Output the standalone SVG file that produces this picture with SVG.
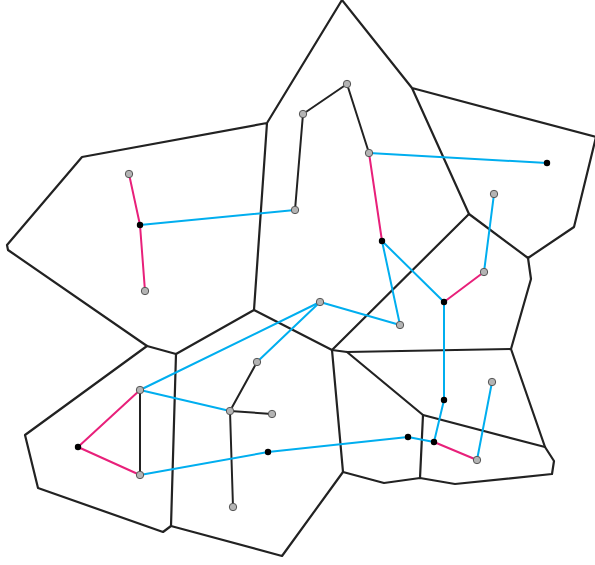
<svg xmlns="http://www.w3.org/2000/svg" width="595" height="565" viewBox="0 0 595 565">
<style>
.cell{fill:none;stroke:#222;stroke-width:2.2;stroke-linejoin:round;stroke-linecap:round}
.e{fill:none;stroke-width:2;stroke-linecap:round}
.k{stroke:#222}
.p{stroke:#e8207a}
.b{stroke:#00aeef}
.g{fill:#b4b4b4;stroke:#555;stroke-width:1}
.d{fill:#000}
</style>
<rect width="595" height="565" fill="#fff"/>
<g id="cells">
<path class="cell" d="M342,0 L267,123 L82,157 L7,245 L8,250 L147,346 L176,354 L254,310 L267,123"/>
<path class="cell" d="M342,0 L412,88 L596,137 L574,227 L528,258 L469,214 L412,88"/>
<path class="cell" d="M469,214 L332,350 L254,310"/>
<path class="cell" d="M528,258 L531,279 L511,349 L545,447 L554,461 L552,474 L455,484 L420,478 L384,483 L343,472 L282,556 L171,526 L163,532 L38,488 L25,435 L147,346"/>
<path class="cell" d="M176,354 L171,526"/>
<path class="cell" d="M332,350 L347,352 L511,349"/>
<path class="cell" d="M332,350 L343,472"/>
<path class="cell" d="M347,352 L423,415 L545,447"/>
<path class="cell" d="M423,415 L420,478"/>
</g>
<g id="connectors">
<line class="e k" x1="303" y1="114" x2="347" y2="84"/>
<line class="e k" x1="347" y1="84" x2="369" y2="153"/>
<line class="e k" x1="303" y1="114" x2="295" y2="210"/>
<line class="e k" x1="140" y1="390" x2="140" y2="475"/>
<line class="e k" x1="257" y1="362" x2="230" y2="411"/>
<line class="e k" x1="230" y1="411" x2="272" y2="414"/>
<line class="e k" x1="230" y1="411" x2="233" y2="507"/>
<line class="e p" x1="129" y1="174" x2="140" y2="225"/>
<line class="e p" x1="140" y1="225" x2="145" y2="291"/>
<line class="e p" x1="369" y1="153" x2="382" y2="241"/>
<line class="e p" x1="444" y1="302" x2="484" y2="272"/>
<line class="e p" x1="140" y1="390" x2="78" y2="447"/>
<line class="e p" x1="78" y1="447" x2="140" y2="475"/>
<line class="e p" x1="434" y1="442" x2="477" y2="460"/>
<line class="e b" x1="369" y1="153" x2="547" y2="163"/>
<line class="e b" x1="140" y1="225" x2="295" y2="210"/>
<line class="e b" x1="382" y1="241" x2="400" y2="325"/>
<line class="e b" x1="382" y1="241" x2="444" y2="302"/>
<line class="e b" x1="494" y1="194" x2="484" y2="272"/>
<line class="e b" x1="444" y1="302" x2="444" y2="400"/>
<line class="e b" x1="444" y1="400" x2="434" y2="442"/>
<line class="e b" x1="320" y1="302" x2="400" y2="325"/>
<line class="e b" x1="320" y1="302" x2="140" y2="390"/>
<line class="e b" x1="320" y1="302" x2="257" y2="362"/>
<line class="e b" x1="140" y1="390" x2="230" y2="411"/>
<line class="e b" x1="140" y1="475" x2="268" y2="452"/>
<line class="e b" x1="268" y1="452" x2="408" y2="437"/>
<line class="e b" x1="408" y1="437" x2="434" y2="442"/>
<line class="e b" x1="492" y1="382" x2="477" y2="460"/>
</g>
<g id="n1"><circle class="g" cx="347" cy="84" r="3.7"/></g>
<g id="n2"><circle class="g" cx="303" cy="114" r="3.7"/></g>
<g id="n3"><circle class="g" cx="369" cy="153" r="3.7"/></g>
<g id="n4"><circle class="g" cx="295" cy="210" r="3.7"/></g>
<g id="n5"><circle class="g" cx="129" cy="174" r="3.7"/></g>
<g id="n6"><circle class="g" cx="145" cy="291" r="3.7"/></g>
<g id="n7"><circle class="g" cx="494" cy="194" r="3.7"/></g>
<g id="n8"><circle class="g" cx="484" cy="272" r="3.7"/></g>
<g id="n9"><circle class="g" cx="400" cy="325" r="3.7"/></g>
<g id="n10"><circle class="g" cx="320" cy="302" r="3.7"/></g>
<g id="n11"><circle class="g" cx="257" cy="362" r="3.7"/></g>
<g id="n12"><circle class="g" cx="140" cy="390" r="3.7"/></g>
<g id="n13"><circle class="g" cx="140" cy="475" r="3.7"/></g>
<g id="n14"><circle class="g" cx="230" cy="411" r="3.7"/></g>
<g id="n15"><circle class="g" cx="272" cy="414" r="3.7"/></g>
<g id="n16"><circle class="g" cx="233" cy="507" r="3.7"/></g>
<g id="n17"><circle class="g" cx="492" cy="382" r="3.7"/></g>
<g id="n18"><circle class="g" cx="477" cy="460" r="3.7"/></g>
<g id="b1"><circle class="d" cx="547" cy="163" r="3.2"/></g>
<g id="b2"><circle class="d" cx="140" cy="225" r="3.2"/></g>
<g id="b3"><circle class="d" cx="382" cy="241" r="3.2"/></g>
<g id="b4"><circle class="d" cx="444" cy="302" r="3.2"/></g>
<g id="b5"><circle class="d" cx="78" cy="447" r="3.2"/></g>
<g id="b6"><circle class="d" cx="268" cy="452" r="3.2"/></g>
<g id="b7"><circle class="d" cx="444" cy="400" r="3.2"/></g>
<g id="b8"><circle class="d" cx="408" cy="437" r="3.2"/></g>
<g id="b9"><circle class="d" cx="434" cy="442" r="3.2"/></g>
</svg>
